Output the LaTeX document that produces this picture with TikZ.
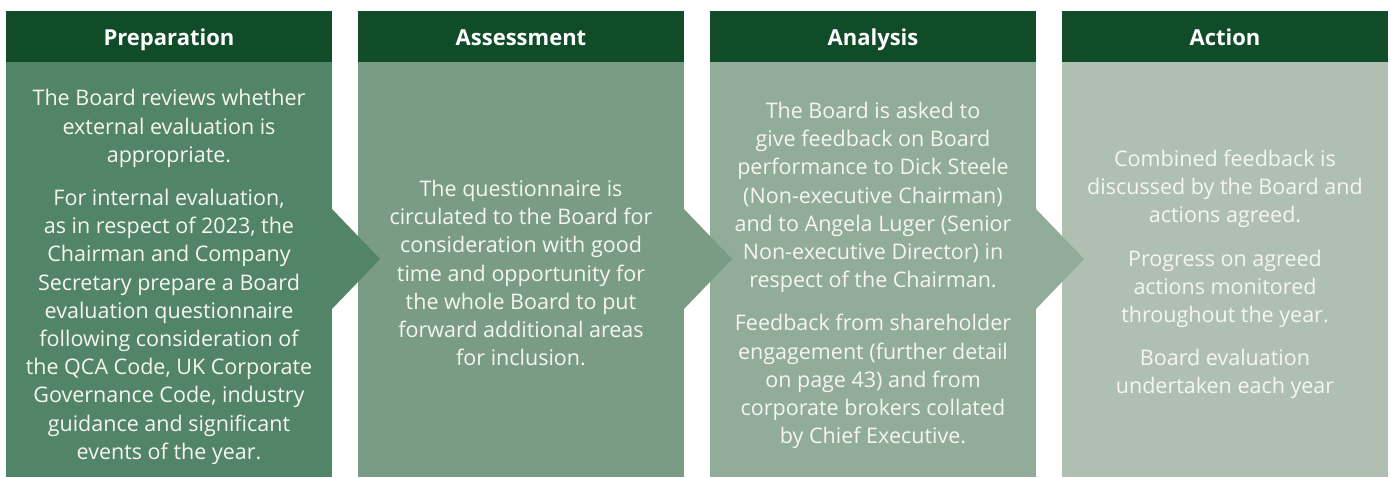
\documentclass[tikz,border=0pt]{standalone}
\usepackage{fontspec}
\setmainfont{Open Sans}
\usepackage{tikz}
\usetikzlibrary{positioning}
\usepackage{xcolor}
\definecolor{headgreen}{HTML}{0F4C27}
\definecolor{prepgreen}{HTML}{528468}
\definecolor{assessgreen}{HTML}{7A9C84}
\definecolor{analgreen}{HTML}{91AC99}
\definecolor{actgreen}{HTML}{AFC0B2}
\definecolor{blurbwhite}{HTML}{F5F6F2}

\begin{document}
\begin{tikzpicture}[x=1pt,y=-1pt,node distance=26pt,
  head/.style={fill=headgreen,text=white,font=\fontsize{22}{26}\selectfont\bfseries,
    text height=20pt,text depth=3pt,
    minimum width=326pt,minimum height=51pt,inner sep=0pt,outer sep=0pt},
  body/.style={minimum width=326pt,minimum height=415pt,inner sep=0pt,outer sep=0pt},
  blurb/.style={text=blurbwhite,font=\fontsize{21.5}{28.2}\selectfont,align=center,inner sep=0pt}]
   \useasboundingbox (0,0) rectangle (1391,477);
   % headers
   \node[head] (h_1) at (169,36.5) {Preparation};
   \node[head] (h_2) [right=of h_1] {Assessment};
   \node[head] (h_3) [right=of h_2] {Analysis};
   \node[head] (h_4) [right=of h_3] {Action};
   % column bodies
   \node[body,fill=prepgreen]   (b_1) [below=0pt of h_1] {};
   \node[body,fill=assessgreen] (b_2) [below=0pt of h_2] {};
   \node[body,fill=analgreen]   (b_3) [below=0pt of h_3] {};
   \node[body,fill=actgreen]    (b_4) [below=0pt of h_4] {};
   % pointers into the next column
   \fill[prepgreen] ([yshift=60.5pt]b_1.east) -- ([xshift=48pt,yshift=10.5pt]b_1.east) -- ([yshift=-39.5pt]b_1.east) -- cycle;
   \fill[assessgreen] ([yshift=60.5pt]b_2.east) -- ([xshift=48pt,yshift=10.5pt]b_2.east) -- ([yshift=-39.5pt]b_2.east) -- cycle;
   \fill[analgreen] ([yshift=60.5pt]b_3.east) -- ([xshift=48pt,yshift=10.5pt]b_3.east) -- ([yshift=-39.5pt]b_3.east) -- cycle;
   % texts
   \node[blurb] (t_1) at ([yshift=-7.5pt]b_1.center) {\strut The Board reviews whether\\
     external evaluation is\\ appropriate.\\[15pt]
     For internal evaluation,\\ as in respect of 2023, the\\ Chairman and Company\\
     Secretary prepare a Board\\ evaluation questionnaire\\ following consideration of\\
     the QCA Code, UK Corporate\\ Governance Code, industry\\ guidance and significant\\
     events of the year.\strut};
   \node[blurb] (t_2) at ([yshift=-6pt]b_2.center) {\strut The questionnaire is\\
     circulated to the Board for\\ consideration with good\\ time and opportunity for\\
     the whole Board to put\\ forward additional areas\\ for inclusion.\strut};
   \node[blurb] (t_3) at ([yshift=-6pt]b_3.center) {\strut The Board is asked to\\
     give feedback on Board\\ performance to Dick Steele\\ (Non-executive Chairman)\\
     and to Angela Luger (Senior\\ Non-executive Director) in\\ respect of the Chairman.\\[15pt]
     Feedback from shareholder\\ engagement (further detail\\ on page 43) and from\\
     corporate brokers collated\\ by Chief Executive.\strut};
   \node[blurb] (t_4) at ([yshift=-5pt]b_4.center) {\strut Combined feedback is\\
     discussed by the Board and\\ actions agreed.\\[15pt]
     Progress on agreed\\ actions monitored\\ throughout the year.\\[15pt]
     Board evaluation\\ undertaken each year\strut};
\end{tikzpicture}
\end{document}
